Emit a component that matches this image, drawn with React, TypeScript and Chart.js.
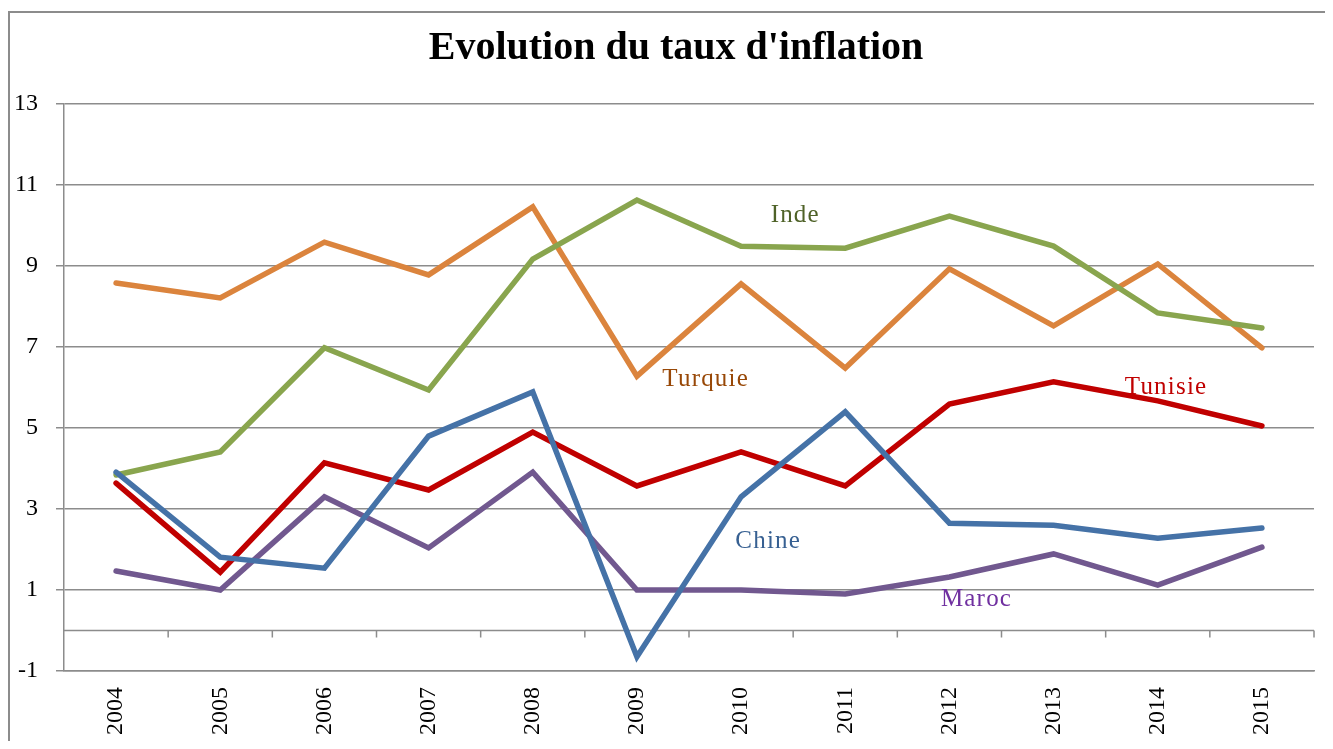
import React, { useEffect, useRef } from "react";
import { Chart, registerables } from "chart.js";

Chart.register(...registerables);

const years = ["2004", "2005", "2006", "2007", "2008", "2009", "2010", "2011", "2012", "2013", "2014", "2015"];
const chine = [3.91, 1.81, 1.54, 4.8, 5.89, -0.65, 3.3, 5.4, 2.65, 2.6, 2.28, 2.53];
const inde = [3.84, 4.41, 6.98, 5.94, 9.17, 10.63, 9.49, 9.44, 10.23, 9.49, 7.84, 7.47];
const maroc = [1.47, 1.0, 3.3, 2.04, 3.91, 1.0, 1.0, 0.9, 1.32, 1.89, 1.12, 2.06];
const turquie = [8.58, 8.21, 9.59, 8.78, 10.46, 6.28, 8.56, 6.48, 8.93, 7.52, 9.05, 6.98];
const tunisie = [3.64, 1.44, 4.14, 3.47, 4.9, 3.57, 4.41, 3.57, 5.59, 6.14, 5.67, 5.05];
const yTicks = [-1, 1, 3, 5, 7, 9, 11, 13];

const titleText = "Evolution du taux d'inflation";
const seriesNames = ["Chine", "Inde", "Maroc", "Turquie", "Tunisie"];
const seriesData = [chine, inde, maroc, turquie, tunisie];
const seriesColors = ["#4572A7", "#89A54E", "#71588F", "#DB843D", "#C00000"];
const labelColors = ["#376092", "#4F6228", "#7030A0", "#984807", "#C00000"];
// label anchor in data units: [category index, value]
const labelX = [6.26, 6.52, 8.26, 5.66, 10.08];
const labelY = [2.2, 10.26, 0.77, 6.19, 5.99];

const GRID = "#8c8c8c";
const FONT = "'Liberation Serif', 'Times New Roman', serif";

const titlePlugin = {
  id: "chartTitle",
  afterDraw(chart: any) {
    const { ctx, chartArea } = chart;
    ctx.save();
    ctx.font = `bold 40px ${FONT}`;
    ctx.fillStyle = "#000";
    ctx.textAlign = "center";
    ctx.textBaseline = "middle";
    ctx.fillText(titleText, (chartArea.left + chartArea.right) / 2 - 13, chartArea.top - 55);
    ctx.restore();
  },
};

const zeroLinePlugin = {
  id: "zeroLine",
  beforeDatasetsDraw(chart: any) {
    const { ctx, chartArea, scales } = chart;
    const x = scales.x;
    const y = scales.y;
    const y0 = y.getPixelForValue(0);
    ctx.save();
    ctx.strokeStyle = GRID;
    ctx.lineWidth = 1.5;
    ctx.beginPath();
    ctx.moveTo(chartArea.left, y0);
    ctx.lineTo(chartArea.right, y0);
    for (let i = 1; i <= years.length; i++) {
      const px = x.getPixelForValue(i - 0.5);
      ctx.moveTo(px, y0);
      ctx.lineTo(px, y0 + 7);
    }
    ctx.stroke();
    ctx.restore();
  },
};

const seriesLabelPlugin = {
  id: "seriesLabels",
  afterDatasetsDraw(chart: any) {
    const { ctx, scales } = chart;
    ctx.save();
    ctx.font = `25px ${FONT}`;
    (ctx as any).letterSpacing = "1.2px";
    ctx.textAlign = "center";
    ctx.textBaseline = "middle";
    seriesNames.forEach((name, i) => {
      ctx.fillStyle = labelColors[i];
      ctx.fillText(name, scales.x.getPixelForValue(labelX[i]), scales.y.getPixelForValue(labelY[i]));
    });
    ctx.restore();
  },
};

function InflationChart() {
  const ref = useRef<HTMLCanvasElement | null>(null);
  useEffect(() => {
    if (!ref.current) return;
    const chart = new Chart(ref.current, {
      type: "line",
      data: {
        labels: years,
        datasets: seriesNames.map((name, i) => ({
          label: name,
          data: seriesData[i],
          borderColor: seriesColors[i],
          backgroundColor: seriesColors[i],
          borderWidth: 5.5,
          borderCapStyle: "round" as const,
          pointRadius: 0,
          tension: 0,
          fill: false,
        })),
      },
      options: {
        animation: false,
        responsive: false,
        maintainAspectRatio: false,
        layout: { padding: { left: 0, top: 96, right: 19, bottom: 0 } },
        plugins: {
          legend: { display: false },
          tooltip: { enabled: false },
          title: { display: false },
        },
        scales: {
          x: {
            type: "category",
            offset: true,
            grid: { display: false, drawTicks: false },
            border: { display: true, color: GRID, width: 1.5 },
            ticks: {
              color: "#000",
              font: { family: FONT, size: 24 },
              minRotation: 90,
              maxRotation: 90,
              padding: 16,
              autoSkip: false,
            },
            afterFit(scale: any) {
              scale.height = 70;
            },
          },
          y: {
            type: "linear",
            min: -1,
            max: 13,
            afterBuildTicks(scale: any) {
              scale.ticks = yTicks.map((v) => ({ value: v }));
            },
            grid: { color: GRID, lineWidth: 1.5, tickLength: 8, drawTicks: true },
            border: { display: true, color: GRID, width: 1.5 },
            ticks: {
              color: "#000",
              font: { family: FONT, size: 24 },
              padding: 18,
            },
            afterFit(scale: any) {
              scale.width = 56;
            },
          },
        },
      },
      plugins: [zeroLinePlugin, seriesLabelPlugin, titlePlugin],
    });
    return () => chart.destroy();
  }, []);

  return (
    <div style={{ position: "relative", width: 1325, height: 733, overflow: "hidden" }}>
      <div
        style={{
          position: "absolute",
          left: 0,
          top: 3,
          width: 1400,
          height: 800,
          border: `2px solid ${GRID}`,
          boxSizing: "border-box",
        }}
      />
      <canvas ref={ref} width={1325} height={733} style={{ position: "absolute", left: 0, top: 0 }} />
    </div>
  );
}

export default function App() {
  return <InflationChart />;
}
